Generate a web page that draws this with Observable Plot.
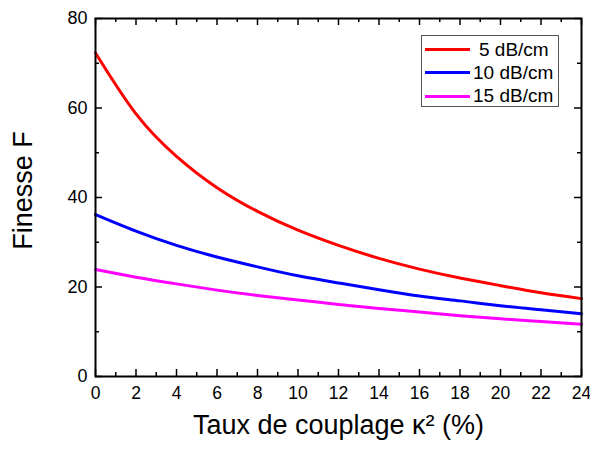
<!DOCTYPE html>
<html>
<head>
<meta charset="utf-8">
<script src="https://cdn.jsdelivr.net/npm/d3@7"></script>
<script src="https://cdn.jsdelivr.net/npm/@observablehq/plot@0.6"></script>
<style>
  html, body { margin: 0; padding: 0; background: #fff; }
  #wrap { position: relative; width: 590px; height: 449px; font-family: "Liberation Sans", Arial, sans-serif; }
  #legend { position: absolute; left: 421px; top: 35px; width: 136px; height: 70px; border: 1px solid #555; background: #fff; box-sizing: content-box; }
  .row { position: absolute; left: 0; height: 23px; display: flex; align-items: center; font-size: 19px; color: #000; white-space: nowrap; }
  .sw { width: 45px; height: 3px; margin-left: 3px; margin-right: 3px; }
</style>
</head>
<body>
<div id="wrap"></div>
<script>
const kappa2 = [0, 2, 4, 6, 8, 10, 12, 14, 16, 18, 20, 22, 24];
const f5  = [72.3, 58.7, 49.2, 42.2, 36.9, 32.7, 29.3, 26.4, 24.0, 22.0, 20.3, 18.7, 17.4];
const f10 = [36.2, 32.5, 29.3, 26.7, 24.5, 22.5, 20.9, 19.4, 18.0, 16.9, 15.8, 14.9, 14.0];
const f15 = [23.9, 22.2, 20.7, 19.3, 18.1, 17.1, 16.1, 15.2, 14.4, 13.6, 12.9, 12.3, 11.7];
const seriesNames = ["5 dB/cm", "10 dB/cm", "15 dB/cm"];
const seriesColors = ["#ff0000", "#0000ff", "#ff00ff"];
const xMajor = [0, 2, 4, 6, 8, 10, 12, 14, 16, 18, 20, 22, 24];
const xMinor = [1, 3, 5, 7, 9, 11, 13, 15, 17, 19, 21, 23];
const yMajor = [0, 20, 40, 60, 80];
const yMinor = [10, 30, 50, 70];
const xLabel = "Taux de couplage κ² (%)";
const yLabel = "Finesse F";

const allSeries = [f5, f10, f15];
const rows = [];
allSeries.forEach((vals, si) => vals.forEach((v, i) => rows.push({x: kappa2[i], y: v, s: seriesNames[si]})));

const W = 590, H = 449;
const mL = 95, mR = 9, mT = 18, mB = 73;
const pw = W - mL - mR, ph = H - mT - mB;
const maj = 7, mnr = 4;

const chart = Plot.plot({
  width: W, height: H,
  marginLeft: mL, marginRight: mR, marginTop: mT, marginBottom: mB,
  style: {fontFamily: "'Liberation Sans', Arial, sans-serif", color: "#000", background: "#fff", overflow: "visible"},
  x: {domain: [0, 24]},
  y: {domain: [0, 80]},
  color: {domain: seriesNames, range: seriesColors},
  marks: [
    Plot.line(rows, {x: "x", y: "y", z: "s", stroke: "s", strokeWidth: 3, curve: "natural"}),
    // inward ticks on all four sides
    Plot.ruleX(xMajor, {x: d => d, insetTop: ph - maj, stroke: "#000", strokeWidth: 1.5}),
    Plot.ruleX(xMajor, {x: d => d, insetBottom: ph - maj, stroke: "#000", strokeWidth: 1.5}),
    Plot.ruleX(xMinor, {x: d => d, insetTop: ph - mnr, stroke: "#000", strokeWidth: 1.5}),
    Plot.ruleX(xMinor, {x: d => d, insetBottom: ph - mnr, stroke: "#000", strokeWidth: 1.5}),
    Plot.ruleY(yMajor, {y: d => d, insetRight: pw - maj, stroke: "#000", strokeWidth: 1.5}),
    Plot.ruleY(yMajor, {y: d => d, insetLeft: pw - maj, stroke: "#000", strokeWidth: 1.5}),
    Plot.ruleY(yMinor, {y: d => d, insetRight: pw - mnr, stroke: "#000", strokeWidth: 1.5}),
    Plot.ruleY(yMinor, {y: d => d, insetLeft: pw - mnr, stroke: "#000", strokeWidth: 1.5}),
    Plot.axisX({ticks: xMajor, tickSize: 0, tickPadding: 10, fontSize: 17.5, label: null}),
    Plot.axisY({ticks: yMajor, tickSize: 0, tickPadding: 8, fontSize: 18, label: null}),
    Plot.frame({stroke: "#000", strokeWidth: 2}),
    Plot.text([xLabel], {frameAnchor: "bottom", dy: 57, fontSize: 27, text: d => d, fill: "#000"}),
    Plot.text([yLabel], {frameAnchor: "left", textAnchor: "middle", dx: -72, dy: -7, rotate: -90, fontSize: 27, text: d => d, fill: "#000"})
  ]
});

const wrap = document.getElementById("wrap");
wrap.appendChild(chart);

const legend = document.createElement("div");
legend.id = "legend";
seriesNames.forEach((name, i) => {
  const row = document.createElement("div");
  row.className = "row";
  row.style.top = (2 + i * 23.3) + "px";
  const sw = document.createElement("div");
  sw.className = "sw";
  sw.style.background = seriesColors[i];
  const t = document.createElement("span");
  t.textContent = name;
  if (i === 0) t.style.marginLeft = "6px";
  row.appendChild(sw);
  row.appendChild(t);
  legend.appendChild(row);
});
wrap.appendChild(legend);
</script>
</body>
</html>
